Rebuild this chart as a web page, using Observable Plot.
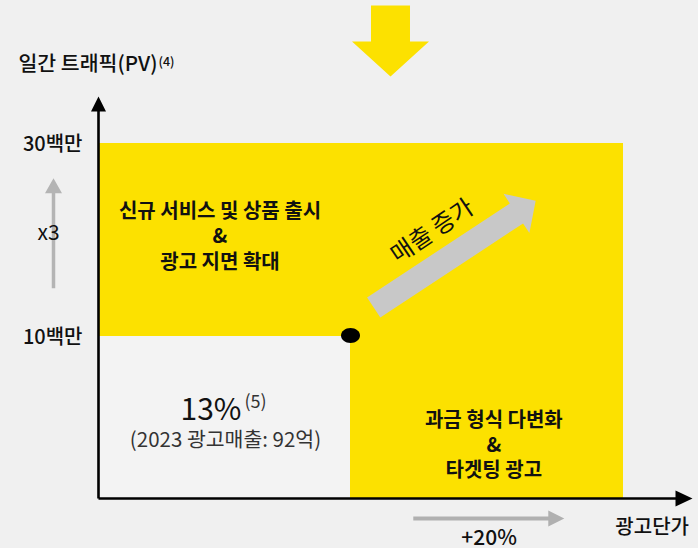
<!DOCTYPE html>
<html>
<head>
<meta charset="utf-8">
<script src="https://cdn.jsdelivr.net/npm/d3@7"></script>
<script src="https://cdn.jsdelivr.net/npm/@observablehq/plot@0.6"></script>
<style>
  body { margin: 0; background: #f0f0f0; }
  #chart svg { display: block; }
</style>
</head>
<body>
<div id="chart"></div>
<script>
// ---- data (conceptual diagram: ad unit price vs daily traffic) ----
const priceDomain = [0, 100, 120];        // ad unit price index: origin, today, +20%
const trafficDomain = [0, 10, 30];        // daily page views (millions): origin, today, x3
const trafficTicks = [30, 10];
const trafficTickLabels = ["30백만", "10백만"];
const currentPrice = 100, currentTraffic = 10;   // today (black dot)
const targetPrice = 120, targetTraffic = 30;     // target (+20% price, x3 traffic)

const axisTitleY = "일간 트래픽(PV)";
const axisTitleYNote = "(4)";
const axisTitleX = "광고단가";
const trafficGrowth = "x3";
const priceGrowth = "+20%";
const upperStrategy = "신규 서비스 및 상품 출시\n&\n광고 지면 확대";
const rightStrategy = "과금 형식 다변화\n&\n타겟팅 광고";
const revenueLabel = "매출 증가";
const shareValue = "13%";
const shareNote = "(5)";
const shareDetail = "(2023 광고매출: 92억)";

// annotation anchors in data units (price index, traffic millions)
const upperNotePos = [48.2, 20.5];
const rightNotePos = [110.5, 3.35];
const sharePos = [50.4, 5.45];
const shareDetailPos = [50.4, 3.58];
const revenueArrowStart = [101.7, 13.0];
const revenueLabelPos = [106.0, 20.9];
const topArrowStart = [102.93, 44.3];
const trafficArrowRange = [15, 26.4];
const priceArrowRange = [104.6, 115.7];
const axisTitleYPos = 38.2;
const axisTitleXPos = [122.1, 0];

// ---- styles ----
const YELLOW = "#fce100";
const FONT = "'Noto Sans CJK KR', 'Noto Sans', sans-serif";

function blockArrow(shaftW, headW, headL) {
  return {
    draw(ctx, l) {
      const b = -(l - headL);
      ctx.moveTo(-shaftW / 2, 0);
      ctx.lineTo(-shaftW / 2, b);
      ctx.lineTo(-headW / 2, b);
      ctx.lineTo(0, -l);
      ctx.lineTo(headW / 2, b);
      ctx.lineTo(shaftW / 2, b);
      ctx.lineTo(shaftW / 2, 0);
      ctx.closePath();
    }
  };
}
const ellipse = {
  draw(ctx) {
    const rx = 9.5, ry = 7.5, k = 0.5523;
    ctx.moveTo(rx, 0);
    ctx.bezierCurveTo(rx, ry * k, rx * k, ry, 0, ry);
    ctx.bezierCurveTo(-rx * k, ry, -rx, ry * k, -rx, 0);
    ctx.bezierCurveTo(-rx, -ry * k, -rx * k, -ry, 0, -ry);
    ctx.bezierCurveTo(rx * k, -ry, rx, -ry * k, rx, 0);
    ctx.closePath();
  }
};

const chart = Plot.plot({
  width: 698,
  height: 548,
  margin: 0,
  style: {background: "#f0f0f0", fontFamily: FONT, color: "#111"},
  x: {type: "linear", domain: priceDomain, range: [98, 350, 623], axis: null},
  y: {type: "linear", domain: trafficDomain, range: [498, 336, 143], axis: null},
  marks: [
    // yellow L-shaped growth area and today's (white) area
    Plot.rect([{x1: priceDomain[0], x2: targetPrice, y1: trafficDomain[0], y2: targetTraffic}],
      {x1: "x1", x2: "x2", y1: "y1", y2: "y2", fill: YELLOW, inset: 0}),
    Plot.rect([{x1: priceDomain[0], x2: currentPrice, y1: trafficDomain[0], y2: currentTraffic}],
      {x1: "x1", x2: "x2", y1: "y1", y2: "y2", fill: "#f3f3f3", inset: 0}),

    // top yellow arrow
    Plot.vector([topArrowStart], {x: d => d[0], y: d => d[1], rotate: 180, length: 71, anchor: "start",
      shape: blockArrow(39, 77, 35), fill: YELLOW, stroke: "none"}),

    // revenue growth arrow
    Plot.vector([revenueArrowStart], {x: d => d[0], y: d => d[1], rotate: 56.6, length: 194, anchor: "start",
      shape: blockArrow(24, 47, 23), fill: "#c8c8c8", stroke: "none"}),
    Plot.text([revenueLabelPos], {x: d => d[0], y: d => d[1], text: () => revenueLabel, rotate: -34,
      fontSize: 24, fontWeight: 400, fill: "#111"}),

    // axes
    Plot.vector([[0, 0]], {x: d => d[0], y: d => d[1], rotate: 0, length: 402, anchor: "start",
      shape: blockArrow(2.6, 15, 15), fill: "#000", stroke: "none"}),
    Plot.vector([[0, 0]], {x: d => d[0], y: d => d[1], rotate: 90, length: 594, anchor: "start",
      shape: blockArrow(2.6, 16, 17), fill: "#000", stroke: "none"}),

    // y tick labels
    Plot.text(trafficTicks, {x: 0, y: d => d, text: (d, i) => trafficTickLabels[i], dx: -16, dy: 1,
      textAnchor: "end", fontSize: 20, fontWeight: 500, fill: "#111"}),

    // traffic growth arrow (x3)
    Plot.vector([trafficArrowRange], {x: 0, y: d => d[0], dx: -45, rotate: 0, length: 110, anchor: "start",
      shape: blockArrow(3.5, 17, 15), fill: "#b4b4b4", stroke: "none"}),
    Plot.text([trafficGrowth], {x: 0, y: (trafficArrowRange[0] + trafficArrowRange[1]) / 2, dx: -50,
      text: d => d, fontSize: 21, fontWeight: 400, fill: "#111"}),

    // price growth arrow (+20%)
    Plot.vector([priceArrowRange], {x: d => d[0], y: 0, dy: 20, rotate: 90, length: 151, anchor: "start",
      shape: blockArrow(4, 16, 16), fill: "#b0b0b0", stroke: "none"}),
    Plot.text([priceGrowth], {x: (priceArrowRange[0] + priceArrowRange[1]) / 2, y: 0, dy: 40,
      text: d => d, fontSize: 21, fontWeight: 500, fill: "#111"}),

    // axis titles
    Plot.text([axisTitleY], {x: 0, y: axisTitleYPos, dx: -80, text: d => d, textAnchor: "start",
      fontSize: 20.5, fontWeight: 500, fill: "#111"}),
    Plot.text([axisTitleYNote], {x: 0, y: axisTitleYPos, dx: 60, dy: -2, text: d => d, textAnchor: "start",
      fontSize: 12.5, fontWeight: 500, fill: "#111"}),
    Plot.text([axisTitleXPos], {x: d => d[0], y: d => d[1], dy: 29, text: () => axisTitleX,
      fontSize: 20, fontWeight: 500, fill: "#111"}),

    // strategy notes
    Plot.text([upperNotePos], {x: d => d[0], y: d => d[1], text: () => upperStrategy,
      fontSize: 20, fontWeight: 700, lineHeight: 1.28, fill: "#111"}),
    Plot.text([rightNotePos], {x: d => d[0], y: d => d[1], text: () => rightStrategy,
      fontSize: 20, fontWeight: 700, lineHeight: 1.24, fill: "#111"}),

    // today's share
    Plot.text([sharePos], {x: d => d[0], y: d => d[1], text: () => shareValue, dx: 16, textAnchor: "end",
      fontSize: 30, fontWeight: 400, fill: "#111"}),
    Plot.text([sharePos], {x: d => d[0], y: d => d[1], text: () => shareNote, dx: 19, dy: -8, textAnchor: "start",
      fontSize: 18, fontWeight: 400, fill: "#333"}),
    Plot.text([shareDetailPos], {x: d => d[0], y: d => d[1], text: () => shareDetail,
      fontSize: 20.5, fontWeight: 400, fill: "#333"}),

    // today
    Plot.dot([[currentPrice, currentTraffic]], {x: d => d[0], y: d => d[1], dy: -1, symbol: ellipse, fill: "#000", stroke: "none"})
  ]
});
document.getElementById("chart").appendChild(chart);
</script>
</body>
</html>
